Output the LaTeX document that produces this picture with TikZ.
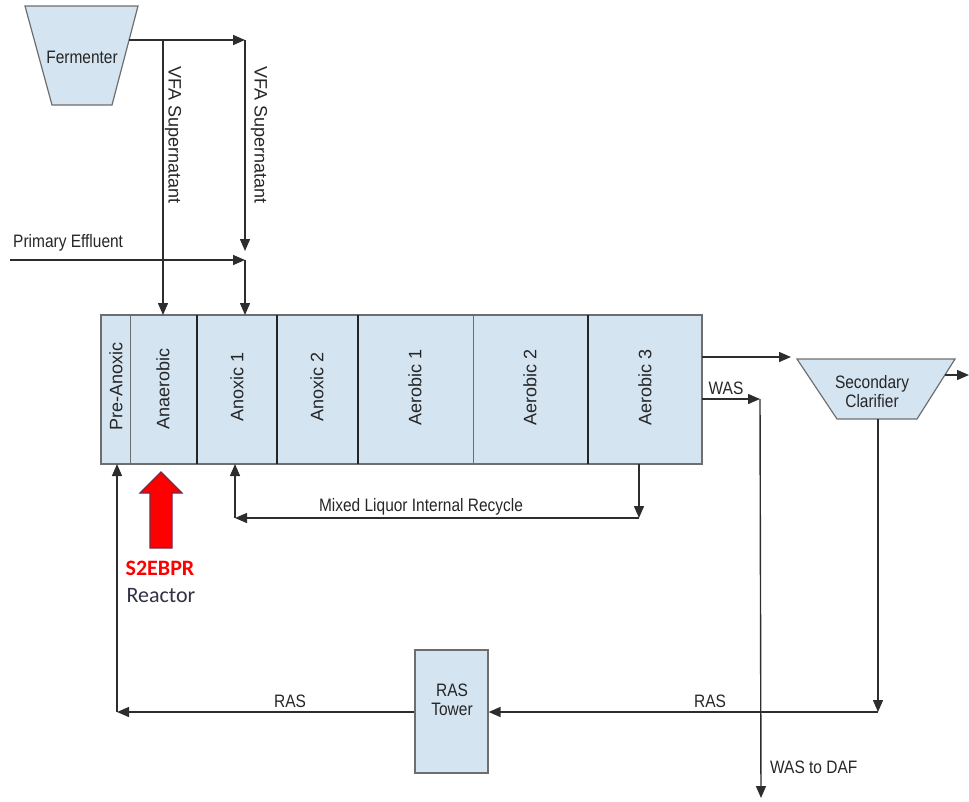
\documentclass[tikz,border=0pt]{standalone}
\usepackage{fontspec}
\setmainfont{Liberation Sans}
\newfontfamily\calib{Carlito}
\usetikzlibrary{arrows.meta}
\definecolor{cellfill}{RGB}{212,228,241}
\definecolor{edgegray}{RGB}{110,110,110}
\definecolor{linegray}{RGB}{45,45,45}
\definecolor{redout}{RGB}{120,40,70}
\definecolor{reactortxt}{RGB}{50,50,70}
\newcommand{\hx}[1]{\scalebox{0.86}[1]{#1}}
\tikzset{
  flow/.style={draw=linegray, line width=1.4pt, -{Triangle[length=12pt,width=10pt]}},
  plain/.style={draw=linegray, line width=1.4pt},
  cell/.style={draw=edgegray, line width=1pt, fill=cellfill, inner sep=0pt, minimum height=149pt},
  divider/.style={draw=linegray!80!black, line width=2.2pt},
  lbl/.style={font=\fontsize{18}{20}\selectfont, text=black!85, inner sep=0pt},
  vlbl/.style={lbl, rotate=90},
  vlblr/.style={lbl, rotate=-90},
  tank/.style={draw=edgegray, line width=1.2pt, fill=cellfill},
}
\begin{document}
\begin{tikzpicture}[x=1pt,y=-1pt]
\useasboundingbox (0,0) rectangle (969,801);

% Fermenter
\draw[tank] (25,6) -- (138,6) -- (112,105) -- (52,105) -- cycle;
\node[lbl] (ferm) at (82,57) {\hx{Fermenter}};
\coordinate (fout) at (129,40);
\coordinate (fsplit) at (163,40);
\coordinate (fcorner) at (245,40);

% Primary effluent
\coordinate (pein) at (10,260);
\coordinate (pejoin) at (245,260);
\node[lbl, anchor=west] (pelbl) at (13,243) {\hx{Primary Effluent}};

% Reactor cells
\node[cell, minimum width=29pt] (pre) at (115.5,389.5) {};
\node[cell, minimum width=67pt] (ana) at (163.5,389.5) {};
\node[cell, minimum width=80pt] (ax1) at (237,389.5) {};
\node[cell, minimum width=81pt] (ax2) at (317.5,389.5) {};
\node[cell, minimum width=115pt] (ae1) at (415.5,389.5) {};
\node[cell, minimum width=115pt] (ae2) at (530.5,389.5) {};
\node[cell, minimum width=114pt] (ae3) at (645,389.5) {};
\draw[draw=edgegray, line width=1.3pt] (101,315) rectangle (702,464);
\foreach \xx in {197,277,358,588} \draw[divider] (\xx,315) -- (\xx,464);

\node[vlbl] at (116,386) {Pre-Anoxic};
\node[vlbl] at (163,389) {Anaerobic};
\node[vlbl] at (237,387) {Anoxic 1};
\node[vlbl] at (317,387) {Anoxic 2};
\node[vlbl] at (415,387) {Aerobic 1};
\node[vlbl] at (530,387) {Aerobic 2};
\node[vlbl] at (645,387) {Aerobic 3};

% VFA lines
\draw[flow] (fout) -- (fcorner);
\draw[flow] (fsplit) -- (163,315);
\draw[flow] (fcorner) -- (245,251);
\draw[flow] (pein) -- (pejoin);
\draw[flow] (pejoin) -- (245,315);
\node[vlblr] (vfa1) at (173,135) {VFA Supernatant};
\node[vlblr] (vfa2) at (259,135) {VFA Supernatant};

% Mixed liquor internal recycle
\coordinate (mlA) at (639,464);
\coordinate (mlB) at (639,518);
\coordinate (mlC) at (235,518);
\coordinate (mlD) at (235,464);
\draw[flow] (mlA) -- (mlB);
\draw[flow] (mlB) -- (mlC);
\draw[flow] (mlC) -- (mlD);
\node[lbl] (mllbl) at (421,507) {\hx{Mixed Liquor Internal Recycle}};

% Red arrow and S2EBPR label
\draw[fill=red, draw=redout, line width=1.2pt] (150,548) -- (172,548) -- (172,493) -- (182,493) -- (161,472) -- (140,493) -- (150,493) -- cycle;
\node[font=\calib\bfseries\fontsize{22}{24}\selectfont, text=red, inner sep=0pt] (s2) at (160,568) {S2EBPR};
\node[font=\calib\fontsize{22}{24}\selectfont, text=reactortxt, inner sep=0pt] (reac) at (161,596) {Reactor};

% Secondary clarifier
\draw[tank] (797,359) -- (955,359) -- (917,419) -- (837,419) -- cycle;
\node[lbl, align=center, font=\fontsize{18}{20}\selectfont] (clar) at (872,392) {\hx{Secondary}\\[-1pt]\hx{Clarifier}};
\coordinate (rout1) at (702,357);
\coordinate (clin) at (791,357);
\draw[flow] (rout1) -- (clin);
\draw[flow] (945,375) -- (969,375);

% WAS
\coordinate (was1) at (702,399);
\coordinate (was2) at (760,399);
\coordinate (was3) at (761,798);
\draw[flow] (was1) -- (was2);
\draw[flow] (was2) -- (was3);
\node[lbl] (waslbl) at (726,388) {\hx{WAS}};
\node[lbl, anchor=west] (wasdaf) at (770,767) {\hx{WAS to DAF}};

% RAS tower
\node[draw=edgegray, line width=1.2pt, fill=cellfill, minimum width=73pt, minimum height=123pt, inner sep=0pt] (tower) at (451.5,711.5) {};
\node[lbl, align=center] at (452,700) {\hx{RAS}\\[-1pt]\hx{Tower}};

\coordinate (clbot) at (878,419);
\coordinate (clcorner) at (878,712);
\coordinate (rascorner) at (117,712);
\draw[flow] (clbot) -- (clcorner);
\draw[flow] (clcorner) -- (tower.east |- clcorner);
\draw[flow] (tower.west |- rascorner) -- (rascorner);
\draw[flow] (rascorner) -- (117,464);
\node[lbl] (ras1) at (290,701) {\hx{RAS}};
\node[lbl] (ras2) at (710,701) {\hx{RAS}};
\end{tikzpicture}
\end{document}
